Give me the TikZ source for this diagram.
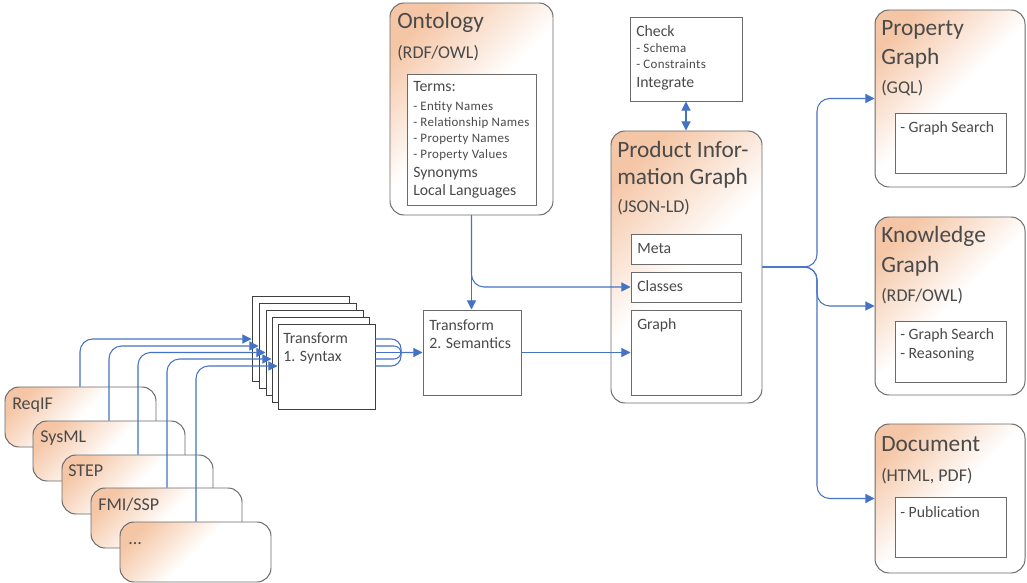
\documentclass[tikz,border=0pt]{standalone}
\usepackage{fontspec}
\setmainfont{Carlito}
\newfontfamily\smallf[LetterSpace=2.5]{Carlito}
\usetikzlibrary{arrows.meta,fit,calc}
\definecolor{peach}{HTML}{F5C6A6}
\definecolor{bord}{HTML}{6B6B6B}
\definecolor{stackbord}{HTML}{3F3F3F}
\definecolor{txt}{HTML}{4A4A4A}
\definecolor{arrblue}{HTML}{4472C4}
\pgfdeclarehorizontalshading{peachshade}{100bp}{color(0bp)=(peach); color(24bp)=(peach); color(36bp)=(peach!55!white); color(50bp)=(white); color(100bp)=(white)}
\tikzset{
  rbox/.style={draw=bord, line width=0.7pt, rounded corners=10pt, shade, shading=peachshade, shading angle=-45, inner sep=0pt},
  ibox/.style={draw=bord, line width=0.7pt, fill=white, inner sep=0pt},
  sbox/.style={draw=stackbord, line width=0.7pt, fill=white, inner sep=0pt},
  ttl/.style={anchor=base west, inner sep=0pt, text=txt, font=\fontsize{16.6}{18}\selectfont},
  sub/.style={anchor=base west, inner sep=0pt, text=txt, font=\fontsize{12.8}{14}\selectfont},
  mid/.style={anchor=base west, inner sep=0pt, text=txt, font=\fontsize{11.2}{13}\selectfont},
  sml/.style={anchor=base west, inner sep=0pt, text=txt, font=\smallf\fontsize{9.2}{10}\selectfont},
  bline/.style={draw=arrblue, line width=0.75pt},
  arr/.style={bline, -{Triangle[length=6.5pt,width=6.5pt]}},
  darr/.style={bline, {Triangle[length=6.5pt,width=6.5pt]}-{Triangle[length=6.5pt,width=6.5pt]}},
}
\begin{document}
\begin{tikzpicture}[x=0.025cm,y=-0.025cm]
\useasboundingbox (0,0) rectangle (1027,583);

% ---------- Ontology ----------
\node[rbox, fit={(390,3) (553,215)}] (onto) {};
\node[ttl] (t-onto) at (397,29) {Ontology};
\node[sub] (t-onto2) at (397,59) {(RDF/OWL)};
\node[ibox, fit={(407,74) (536,205)}] (ontoin) {};
\node[mid] (t-terms) at (413,92) {Terms:};
\node[sml] (t-ent) at (413,111) {- Entity Names};
\node[sml] (t-rel) at (413,127) {- Relationship Names};
\node[sml] (t-pn) at (413,143) {- Property Names};
\node[sml] (t-pv) at (413,159) {- Property Values};
\node[mid] (t-syn) at (413,178) {Synonyms};
\node[mid] (t-loc) at (413,196) {Local Languages};

% ---------- Check ----------
\node[ibox, fit={(630,17) (742,101)}] (chk) {};
\node[mid] (t-chk) at (636,37) {Check};
\node[sml] (t-sch) at (636,53) {- Schema};
\node[sml] (t-con) at (636,69) {- Constraints};
\node[mid] (t-int) at (636,88) {Integrate};

% ---------- Product Information Graph ----------
\node[rbox, fit={(611,131) (762,403)}] (pig) {};
\node[ttl] (t-pig1) at (617,158) {Product Infor-};
\node[ttl] (t-pig2) at (617,185) {mation Graph};
\node[sub] (t-pig3) at (617,213) {(JSON-LD)};
\node[ibox, fit={(631,234) (741,264)}] (meta) {};
\node[mid] (t-meta) at (637,254) {Meta};
\node[ibox, fit={(631,272) (741,302)}] (classes) {};
\node[mid] (t-classes) at (637,292) {Classes};
\node[ibox, fit={(631,310) (741,395)}] (gbox) {};
\node[mid] (t-graph) at (637,330) {Graph};

\draw[darr] (chk.south) -- (chk.south |- pig.north);

% ---------- Transform 2 ----------
\node[ibox, fit={(423,310) (521,395)}] (t2) {};
\node[mid] (t-t2a) at (429,331) {Transform};
\node[mid] (t-t2b) at (429,349) {2. Semantics};

% ---------- Output boxes ----------
\node[rbox, fit={(875,10) (1025,187)}] (pg) {};
\node[ttl] (t-pg1) at (881,36) {Property};
\node[ttl] (t-pg2) at (881,65) {Graph};
\node[sub] (t-pg3) at (881,94) {(GQL)};
\node[ibox, fit={(895,113) (1006,173)}] (pgin) {};
\node[mid] (t-pgin) at (900,133) {- Graph Search};

\node[rbox, fit={(875,217) (1025,395)}] (kg) {};
\node[ttl] (t-kg1) at (881,243) {Knowledge};
\node[ttl] (t-kg2) at (881,273) {Graph};
\node[sub] (t-kg3) at (881,302) {(RDF/OWL)};
\node[ibox, fit={(895,321) (1006,382)}] (kgin) {};
\node[mid] (t-kgin1) at (900,340) {- Graph Search};
\node[mid] (t-kgin2) at (900,359) {- Reasoning};

\node[rbox, fit={(875,424) (1025,573)}] (doc) {};
\node[ttl] (t-doc1) at (881,451) {Document};
\node[sub] (t-doc2) at (881,481) {(HTML, PDF)};
\node[ibox, fit={(895,497) (1006,557)}] (docin) {};
\node[mid] (t-docin) at (900,517) {- Publication};

% ---------- Transform 1 stack ----------
\node[sbox, fit={(252,296) (349,381)}] (tf1) {};
\node[sbox, fit={(259,303) (356,388)}] (tf2) {};
\node[sbox, fit={(266,310) (363,395)}] (tf3) {};
\node[sbox, fit={(272,317) (369,402)}] (tf4) {};
\node[sbox, fit={(278,324) (375,409)}] (tf5) {};
\node[mid] (t-t1a) at (283,344) {Transform};
\node[mid] (t-t1b) at (283,362) {1. Syntax};

% ---------- Inputs ----------
\node[rbox, fit={(5,387) (156,447)}] (in1) {};
\node[sub] (t-in1) at (12,410) {ReqIF};
\node[rbox, fit={(33,421) (185,481)}] (in2) {};
\node[sub] (t-in2) at (40,443) {SysML};
\node[rbox, fit={(62,455) (213,514)}] (in3) {};
\node[sub] (t-in3) at (68,476) {STEP};
\node[rbox, fit={(91,488) (242,548)}] (in4) {};
\node[sub] (t-in4) at (98,510) {FMI/SSP};
\node[rbox, fit={(120,522) (271,582)}] (in5) {};
\node[sub] (t-in5) at (128,544) {...};

% ---------- helper coordinates ----------
\coordinate (c1) at (80,0);
\coordinate (c2) at (109,0);
\coordinate (c3) at (138,0);
\coordinate (c4) at (167,0);
\coordinate (c5) at (196,0);
\coordinate (l1) at (0,339);
\coordinate (l2) at (0,346);
\coordinate (l3) at (0,352.5);
\coordinate (l4) at (0,359);
\coordinate (l5) at (0,366);
\coordinate (mg) at (401,352.5);
\coordinate (jx) at (817,267);

% ---------- Connectors ----------
\draw[arr, rounded corners=9pt] (in1.north -| c1) |- (tf1.west |- l1);
\draw[arr, rounded corners=9pt] (in2.north -| c2) |- (tf2.west |- l2);
\draw[arr, rounded corners=9pt] (in3.north -| c3) |- (tf3.west |- l3);
\draw[arr, rounded corners=9pt] (in4.north -| c4) |- (tf4.west |- l4);
\draw[arr, rounded corners=9pt] (in5.north -| c5) |- (tf5.west |- l5);

\draw[bline, rounded corners=7pt] (tf5.east |- l1) -| (mg);
\draw[bline, rounded corners=5pt] (tf5.east |- l2) -| (mg);
\draw[bline] (tf5.east |- l3) -- (mg);
\draw[bline, rounded corners=5pt] (tf5.east |- l4) -| (mg);
\draw[bline, rounded corners=7pt] (tf5.east |- l5) -| (mg);
\draw[arr] (mg) -- (t2.west);

\draw[arr] (onto.south) -- (onto.south |- t2.north);
\draw[arr, rounded corners=9pt] (onto.south) |- (classes.west);
\draw[arr] (t2.east) -- (gbox.west |- t2.east);

\draw[arr, rounded corners=9pt] (pig.east) -- (jx) |- (pg.west);
\draw[arr, rounded corners=9pt] (pig.east) -- (jx) |- (kg.west);
\draw[arr, rounded corners=9pt] (pig.east) -- (jx) |- (doc.west);
\end{tikzpicture}
\end{document}
